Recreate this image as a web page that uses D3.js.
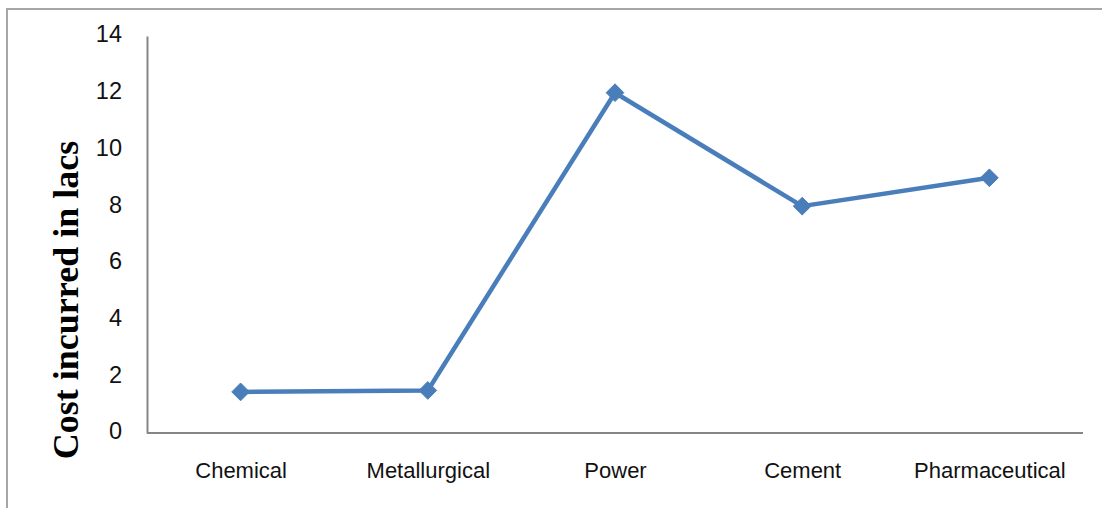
<!DOCTYPE html>
<html>
<head>
<meta charset="utf-8">
<script src="https://cdn.jsdelivr.net/npm/d3@7"></script>
<style>
  html, body { margin: 0; padding: 0; background: #fff; }
  svg { display: block; }
</style>
</head>
<body>
<svg id="chart" width="1102" height="508"></svg>
<script>
// Cost incurred per industry (in lacs)
const categories = ["Chemical", "Metallurgical", "Power", "Cement", "Pharmaceutical"];
const costValues = [1.45, 1.5, 12, 8, 9];
const yTicks = [0, 2, 4, 6, 8, 10, 12, 14];
const yTitle = "Cost incurred in lacs";

const svg = d3.select("#chart");
const W = 1102, H = 508;

// outer chart frame
svg.append("rect")
  .attr("x", 7).attr("y", 9)
  .attr("width", W + 20).attr("height", H + 20)
  .attr("fill", "none")
  .attr("stroke", "#a6a6a6")
  .attr("stroke-width", 2);

const plot = { left: 147, right: 1083, top: 36, bottom: 433 };

const x = d3.scalePoint()
  .domain(categories)
  .range([plot.left, plot.right])
  .padding(0.5);

const y = d3.scaleLinear()
  .domain([0, 14])
  .range([plot.bottom, plot.top]);

// y axis
const yAxis = svg.append("g")
  .attr("transform", `translate(${plot.left},0)`)
  .call(d3.axisLeft(y).tickValues(yTicks).tickSize(0).tickPadding(25));
yAxis.select(".domain").attr("stroke", "#868686").attr("stroke-width", 2);
yAxis.selectAll("text")
  .attr("font-family", "'Liberation Sans', Arial, sans-serif")
  .attr("font-size", 23.5)
  .attr("dy", "0.25em")
  .attr("fill", "#111");

// x axis
const xAxis = svg.append("g")
  .attr("transform", `translate(0,${plot.bottom})`)
  .call(d3.axisBottom(x).tickSize(0).tickPadding(29.5));
xAxis.select(".domain").attr("stroke", "#868686").attr("stroke-width", 2)
  .attr("d", `M${plot.left},0H${plot.right}`);
xAxis.selectAll("text")
  .attr("font-family", "'Liberation Sans', Arial, sans-serif")
  .attr("font-size", 22)
  .attr("fill", "#111");

// y axis title
svg.append("text")
  .attr("transform", `translate(78,300) rotate(-90)`)
  .attr("text-anchor", "middle")
  .attr("font-family", "'Liberation Serif', 'Times New Roman', serif")
  .attr("font-weight", "bold")
  .attr("font-size", 36)
  .attr("fill", "#000")
  .text(yTitle);

const data = categories.map((c, i) => ({ c, v: costValues[i] }));

// series line
svg.append("path")
  .datum(data)
  .attr("fill", "none")
  .attr("stroke", "#4a7ebb")
  .attr("stroke-width", 4.5)
  .attr("stroke-linejoin", "round")
  .attr("d", d3.line().x(d => x(d.c)).y(d => y(d.v)));

// diamond markers
svg.append("g").selectAll("path")
  .data(data)
  .join("path")
  .attr("transform", d => `translate(${x(d.c)},${y(d.v)})`)
  .attr("d", d3.symbol().type(d3.symbolDiamond2).size(200))
  .attr("fill", "#4a7ebb")
  .attr("stroke", "#4a7ebb")
  .attr("stroke-width", 1)
  .attr("stroke-linejoin", "round");
</script>
</body>
</html>
